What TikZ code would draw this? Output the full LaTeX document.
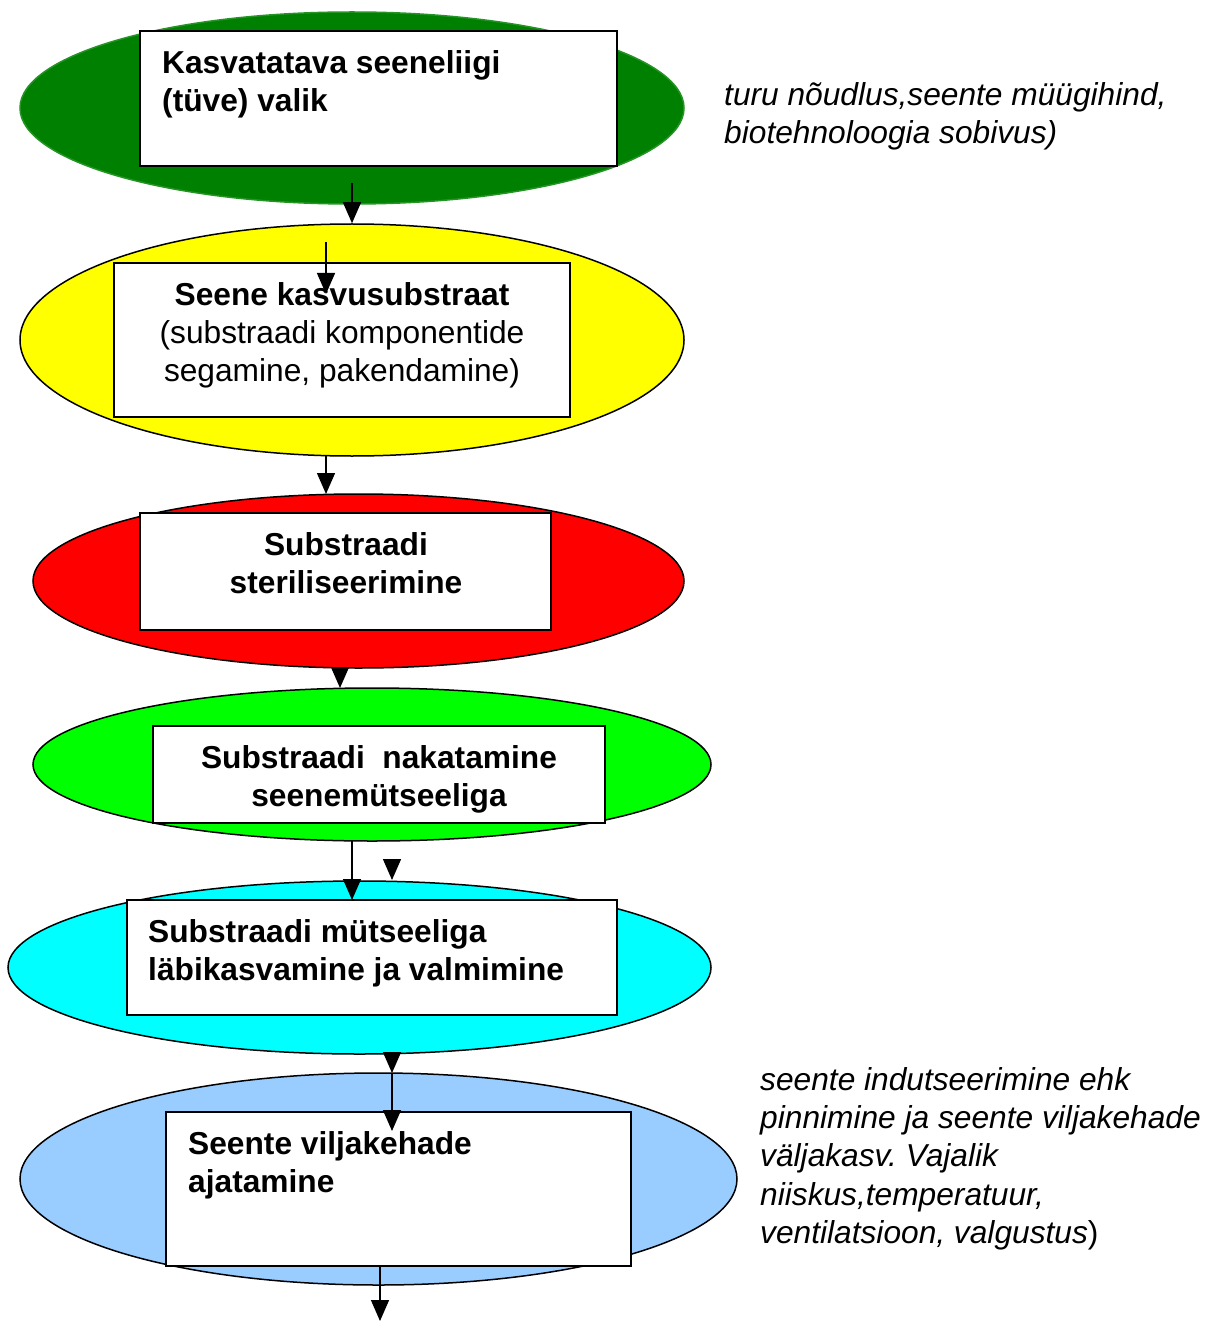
\documentclass[tikz,border=0pt]{standalone}
\usepackage{fontspec}
\setmainfont{Liberation Sans}
\usetikzlibrary{shapes.geometric,arrows.meta}
\frenchspacing
\definecolor{cgreen}{HTML}{008000}
\definecolor{cyellow}{HTML}{FFFF00}
\definecolor{cred}{HTML}{FF0000}
\definecolor{clime}{HTML}{00FF00}
\definecolor{ccyan}{HTML}{00FFFF}
\definecolor{cblue}{HTML}{99CCFF}
\newcommand\txtfont{\fontsize{31.7}{38.4}\selectfont}
\tikzset{
  stage/.style={ellipse,draw=black,line width=1.5pt,inner sep=0pt},
  stepbox/.style={rectangle,draw=black,fill=white,line width=1.8pt,inner sep=0pt},
  lbl/.style={inner sep=0pt,font=\txtfont,anchor=north west,align=left},
  clbl/.style={inner sep=0pt,font=\txtfont\bfseries,anchor=north,align=center},
  arr/.style={line width=1.4pt,-{Triangle[length=21pt,width=18pt]}}
}
\begin{document}
\begin{tikzpicture}[x=1pt,y=-1pt]
\useasboundingbox (0,0) rectangle (1208,1321);
% stage 1
\node[stage,draw=cgreen!85!white,fill=cgreen,minimum width=664,minimum height=192] (e1) at (352,108) {};
\node[stepbox,minimum width=477,minimum height=135] (b1) at (378.5,98.5) {};
\node[lbl,font=\txtfont\bfseries] (t1) at (162,46.1) {\strut Kasvatatava seeneliigi\\\strut (tüve) valik};
% stage 2
\node[stage,fill=cyellow,minimum width=664,minimum height=232] (e2) at (352,340) {};
\node[stepbox,minimum width=456,minimum height=154] (b2) at (342,340) {};
\node[inner sep=0pt,font=\txtfont,anchor=north,align=center] (t2) at (342,278.1) {\strut\textbf{Seene kasvusubstraat}\\\strut(substraadi komponentide\\\strut segamine, pakendamine)};
% stage 3
\node[stage,fill=cred,minimum width=651,minimum height=174] (e3) at (358.5,581) {};
\node[stepbox,minimum width=411,minimum height=117] (b3) at (345.5,571.5) {};
\node[clbl] (t3) at (346,528.1) {\strut Substraadi\\\strut steriliseerimine};
% stage 4
\node[stage,fill=clime,minimum width=678,minimum height=153] (e4) at (372,764.5) {};
\node[stepbox,minimum width=452,minimum height=97] (b4) at (379,774.5) {};
\node[clbl] (t4) at (379,741.1) {\strut Substraadi~ nakatamine\\\strut seenemütseeliga};
% stage 5
\node[stage,fill=ccyan,minimum width=703,minimum height=173] (e5) at (359.5,967.5) {};
\node[stepbox,minimum width=490,minimum height=115] (b5) at (372,957.5) {};
\node[lbl,font=\txtfont\bfseries] (t5) at (148,915.1) {\strut Substraadi mütseeliga\\\strut läbikasvamine ja valmimine};
% stage 6
\node[stage,fill=cblue,minimum width=717,minimum height=212] (e6) at (378.5,1179) {};
\node[stepbox,minimum width=465,minimum height=154] (b6) at (398.5,1189) {};
\node[lbl,font=\txtfont\bfseries] (t6) at (188,1127.1) {\strut Seente viljakehade\\\strut ajatamine};
% side notes
\node[lbl,font=\txtfont\itshape] (n1) at (724,78.1) {\strut turu nõudlus,seente müügihind,\\\strut biotehnoloogia sobivus)};
\node[lbl,font=\txtfont] (n2) at (760,1063.1) {\strut\textit{seente indutseerimine ehk}\\\strut\textit{pinnimine ja seente viljakehade}\\\strut\textit{väljakasv. Vajalik}\\\strut\textit{niiskus,temperatuur,}\\\strut\textit{ventilatsioon, valgustus})};
% connectors
\coordinate (a1s) at (352,183);
\coordinate (a2s) at (326,242);
\coordinate (a2e) at (326,294);
\coordinate (a3s) at (326,455);
\coordinate (a3e) at (326,494);
\coordinate (a4s) at (340,667);
\coordinate (a4e) at (340,688);
\coordinate (a5s) at (352,841);
\coordinate (a5e) at (352,900);
\coordinate (a5bs) at (392,859);
\coordinate (a5be) at (392,880);
\coordinate (a6s) at (392,1052);
\coordinate (a6m) at (392,1073);
\coordinate (a6e) at (392,1131);
\coordinate (a7s) at (380,1266);
\coordinate (a7e) at (380,1321);
\draw[arr] (a1s) -- (e2.north);
\draw[arr] (a2s) -- (a2e);
\draw[arr] (a3s) -- (a3e);
\draw[arr] (a4s) -- (a4e);
\draw[arr] (a5s) -- (a5e);
\draw[arr] (a5bs) -- (a5be);
\draw[arr] (a6s) -- (a6m);
\draw[arr] (a6m) -- (a6e);
\draw[arr] (a7s) -- (a7e);
\end{tikzpicture}
\end{document}
